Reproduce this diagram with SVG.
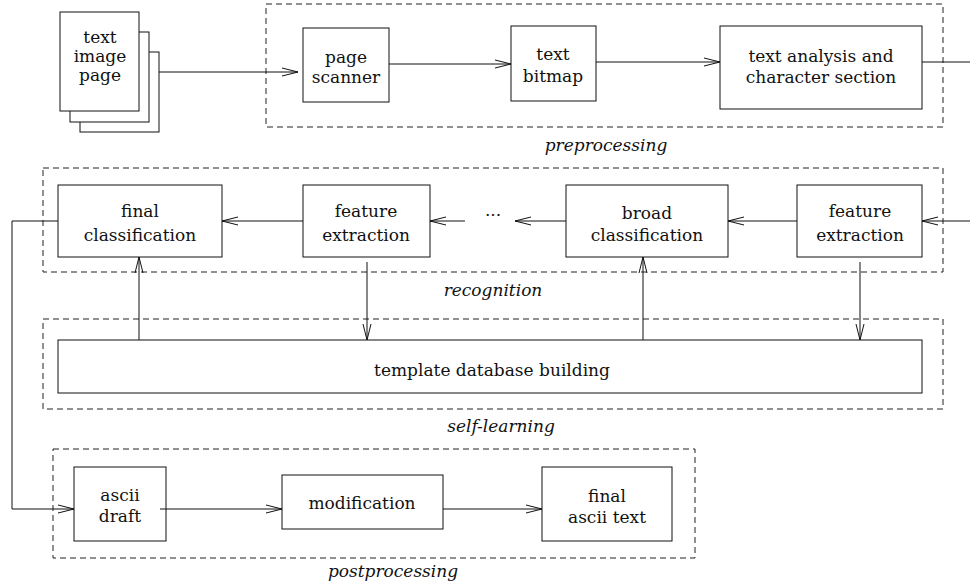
<svg xmlns="http://www.w3.org/2000/svg" width="970" height="588" viewBox="0 0 970 588">
<style>
.bg{fill:#fff}
.box{fill:#fff;stroke:#111;stroke-width:1}
.grp{fill:none;stroke:#222;stroke-width:1;stroke-dasharray:6 4}
.ln{fill:none;stroke:#111;stroke-width:1}
text{font-family:'DejaVu Serif',serif;fill:#111;text-anchor:middle}
.t{font-size:17px}
.s{font-size:17px}
.lab{font-size:17px;font-style:italic}
</style>
<defs>
<marker id="ah" markerUnits="userSpaceOnUse" markerWidth="18" markerHeight="10" refX="16" refY="4" orient="auto" overflow="visible">
<path d="M0,0 L16,4 L0,8" fill="none" stroke="#111" stroke-width="1"/>
</marker>
</defs>
<rect class="bg" x="0" y="0" width="970" height="588"/>

<g id="groups">
<rect id="preprocessing-group" class="grp" x="266" y="4" width="677" height="123"/>
<rect id="recognition-group" class="grp" x="43" y="168" width="900" height="104"/>
<rect id="self-learning-group" class="grp" x="43" y="319" width="900" height="90"/>
<rect id="postprocessing-group" class="grp" x="53" y="449" width="642" height="109"/>
<text class="lab" x="606" y="151">preprocessing</text>
<text class="lab" x="493" y="296">recognition</text>
<text class="lab" x="501" y="432">self-learning</text>
<text class="lab" x="393" y="577">postprocessing</text>
</g>

<g id="connectors">
<line class="ln" x1="159" y1="72" x2="298" y2="72" marker-end="url(#ah)"/>
<line class="ln" x1="389" y1="64" x2="511" y2="64" marker-end="url(#ah)"/>
<line class="ln" x1="596" y1="62" x2="720" y2="62" marker-end="url(#ah)"/>
<line class="ln" x1="922" y1="62" x2="970" y2="62"/>
<line class="ln" x1="970" y1="221" x2="922" y2="221" marker-end="url(#ah)"/>
<line class="ln" x1="797" y1="221" x2="728" y2="221" marker-end="url(#ah)"/>
<line class="ln" x1="566" y1="221" x2="515" y2="221" marker-end="url(#ah)"/>
<line class="ln" x1="465" y1="221" x2="430" y2="221" marker-end="url(#ah)"/>
<line class="ln" x1="303" y1="221" x2="222" y2="221" marker-end="url(#ah)"/>
<polyline class="ln" points="60,221 12,221 12,509 74,509" marker-end="url(#ah)"/>
<line class="ln" x1="139" y1="340" x2="139" y2="257" marker-end="url(#ah)"/>
<line class="ln" x1="367" y1="262" x2="367" y2="340" marker-end="url(#ah)"/>
<line class="ln" x1="643" y1="340" x2="643" y2="257" marker-end="url(#ah)"/>
<line class="ln" x1="860" y1="262" x2="860" y2="340" marker-end="url(#ah)"/>
<line class="ln" x1="160" y1="509" x2="282" y2="509" marker-end="url(#ah)"/>
<line class="ln" x1="443" y1="509" x2="542" y2="509" marker-end="url(#ah)"/>
<text class="t" x="493" y="216">...</text>
</g>

<g id="text-image-page">
<rect class="box" x="80" y="52" width="79" height="80"/>
<rect class="box" x="70" y="32" width="79" height="90"/>
<rect class="box" x="60" y="12" width="79" height="99"/>
<text class="s" x="100" y="43">text</text>
<text class="s" x="100" y="62">image</text>
<text class="s" x="100" y="81">page</text>
</g>

<g id="page-scanner">
<rect class="box" x="303" y="28" width="86" height="74"/>
<text class="s" x="346" y="63">page</text>
<text class="s" x="346" y="83">scanner</text>
</g>

<g id="text-bitmap">
<rect class="box" x="511" y="26" width="85" height="75"/>
<text class="t" x="553" y="60">text</text>
<text class="t" x="553" y="82">bitmap</text>
</g>

<g id="text-analysis">
<rect class="box" x="720" y="26" width="202" height="83"/>
<text class="t" x="821" y="62">text analysis and</text>
<text class="t" x="821" y="83">character section</text>
</g>

<g id="final-classification">
<rect class="box" x="58" y="185" width="164" height="72"/>
<text class="t" x="140" y="217">final</text>
<text class="t" x="140" y="241">classification</text>
</g>

<g id="feature-extraction-1">
<rect class="box" x="303" y="185" width="127" height="72"/>
<text class="t" x="366" y="217">feature</text>
<text class="t" x="366" y="241">extraction</text>
</g>

<g id="broad-classification">
<rect class="box" x="566" y="185" width="162" height="72"/>
<text class="t" x="647" y="219">broad</text>
<text class="t" x="647" y="241">classification</text>
</g>

<g id="feature-extraction-2">
<rect class="box" x="797" y="185" width="125" height="72"/>
<text class="t" x="860" y="217">feature</text>
<text class="t" x="860" y="241">extraction</text>
</g>

<g id="template-database">
<rect class="box" x="58" y="340" width="864" height="53"/>
<text class="t" x="492" y="376">template database building</text>
</g>

<g id="ascii-draft">
<rect class="box" x="74" y="467" width="92" height="74" fill-opacity="0"/>
<text class="t" x="120" y="501">ascii</text>
<text class="t" x="120" y="522">draft</text>
</g>

<g id="modification">
<rect class="box" x="282" y="475" width="161" height="54"/>
<text class="t" x="362" y="509">modification</text>
</g>

<g id="final-ascii-text">
<rect class="box" x="542" y="467" width="130" height="74"/>
<text class="t" x="607" y="502">final</text>
<text class="t" x="607" y="523">ascii text</text>
</g>
</svg>
